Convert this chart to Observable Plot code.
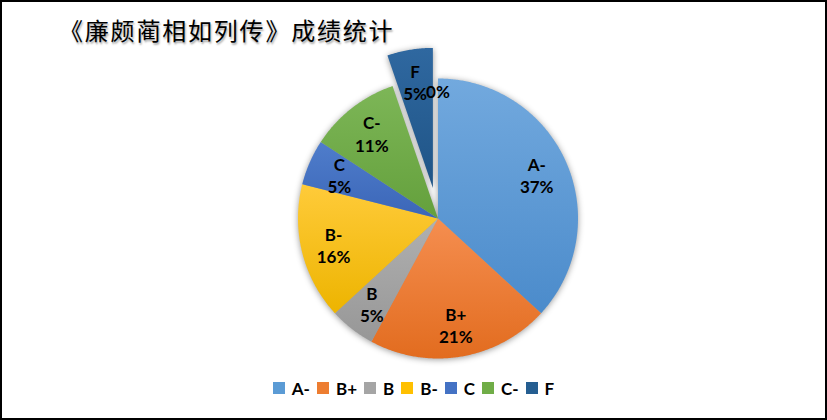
<!DOCTYPE html>
<html><head><meta charset="utf-8">
<script src="https://cdn.jsdelivr.net/npm/d3@7"></script>
<script src="https://cdn.jsdelivr.net/npm/@observablehq/plot@0.6"></script>
<style>
body{margin:0;background:#fff;}
#wrap{position:relative;width:827px;height:420px;overflow:hidden;background:#fff;}
#frame{position:absolute;left:0;top:0;width:827px;height:420px;box-sizing:border-box;border:2px solid #000;pointer-events:none;z-index:5;}
#title{position:absolute;left:59px;top:18px;font-family:"Noto Sans CJK SC";font-size:24px;line-height:24px;letter-spacing:1.8px;color:#000;white-space:nowrap;text-shadow:1px 2px 2px rgba(0,0,0,0.35);z-index:3;}
#chart{position:absolute;left:0;top:0;z-index:1;}
#chart svg g[aria-label="line"]{filter:drop-shadow(0px 1px 3px rgba(0,0,0,0.4));}
#legend{position:absolute;left:0;top:379px;width:827px;height:18px;display:flex;justify-content:center;align-items:center;font-family:Lato,"Noto Sans",sans-serif;font-weight:bold;font-size:17px;color:#000;z-index:3;}
#legend .item{display:flex;align-items:center;margin:0 3.5px;}
#legend .sw{width:12px;height:12px;margin-right:7px;}
</style>
</head><body>
<div id="wrap">
  <div id="chart"></div>
  <div id="title"></div>
  <div id="legend"></div>
  <div id="frame"></div>
</div>
<script>
const titleText = "《廉颇蔺相如列传》成绩统计";
const categories = ["A-", "B+", "B", "B-", "C", "C-", "F", ""];
const counts = [7, 4, 1, 3, 1, 2, 1, 0];
const exploded = [false, false, false, false, false, false, true, true];
const legendCategories = ["A-", "B+", "B", "B-", "C", "C-", "F"];
const baseColors = ["#5B9BD5", "#ED7D31", "#A5A5A5", "#FFC000", "#4472C4", "#70AD47", "#255E91", "#264478"];
const topColors = ["#72A9DE", "#F58E50", "#B0B0B0", "#FFCB3A", "#4F7DCB", "#7DB657", "#2F68A0", "#2F68A0"];
const bottomColors = ["#4B8BCB", "#E26C1F", "#979797", "#EDB400", "#3B66B8", "#64A03C", "#1F5486", "#1F5486"];

const W = 827, H = 420;
const CX = 437.5, CY = 218, RADIUS = 140;
const EXPLODE = 31 / RADIUS, LABEL_R = 0.77;

document.getElementById("title").textContent = titleText;

const rows = categories.map((c, i) => ({key: c === "" ? "(blank)" : c, name: c, count: counts[i], exploded: exploded[i], idx: i}));
const total = d3.sum(counts);
const fmt = d3.format(".0%");
const arcs = d3.pie().sort(null).value(d => d.count)(rows);

const pts = [];
const labels = [];
arcs.forEach(p => {
  const d = p.data;
  const mid = (p.startAngle + p.endAngle) / 2;
  const off = d.exploded ? EXPLODE : 0;
  const ox = off * Math.sin(mid), oy = -off * Math.cos(mid);
  const pct = fmt(d.count / total);
  labels.push({x: ox + LABEL_R * Math.sin(mid), y: oy - LABEL_R * Math.cos(mid), text: (d.name || "") + "\n" + pct});
  if (d.count === 0) return;
  pts.push({key: d.key, x: ox, y: oy});
  const n = Math.max(2, Math.ceil((p.endAngle - p.startAngle) / (Math.PI / 360)));
  for (let k = 0; k <= n; k++) {
    const a = p.startAngle + (p.endAngle - p.startAngle) * k / n;
    pts.push({key: d.key, x: ox + Math.sin(a), y: oy - Math.cos(a)});
  }
  pts.push({key: d.key, x: ox, y: oy});
});

const keys = rows.map(r => r.key);
const fills = rows.map((r, i) => `url(#grad${i})`);

const svg = Plot.plot({
  width: W, height: H,
  margin: 0,
  x: {domain: [-CX / RADIUS, (W - CX) / RADIUS], range: [0, W], axis: null},
  y: {domain: [-CY / RADIUS, (H - CY) / RADIUS], range: [0, H], axis: null},
  color: {type: "ordinal", domain: keys, range: fills},
  style: {background: "transparent"},
  marks: [
    Plot.line(pts, {x: "x", y: "y", z: "key", fill: "key", stroke: "none", curve: "linear"}),
    Plot.text(labels, {x: "x", y: "y", text: "text", fill: "#000", fontSize: 17, fontWeight: "bold", fontFamily: "Lato, 'Noto Sans', sans-serif", lineHeight: 1.3})
  ]
});

const defs = d3.select(svg).insert("defs", ":first-child");
rows.forEach((r, i) => {
  const g = defs.append("linearGradient").attr("id", `grad${i}`).attr("x1", 0).attr("y1", 0).attr("x2", 0).attr("y2", 1);
  g.append("stop").attr("offset", "0%").attr("stop-color", topColors[i]);
  g.append("stop").attr("offset", "100%").attr("stop-color", bottomColors[i]);
});
document.getElementById("chart").appendChild(svg);

const legend = d3.select("#legend");
legendCategories.forEach(c => {
  const i = categories.indexOf(c);
  const it = legend.append("div").attr("class", "item");
  it.append("div").attr("class", "sw").style("background", baseColors[i]);
  it.append("span").text(c);
});
</script>
</body></html>
